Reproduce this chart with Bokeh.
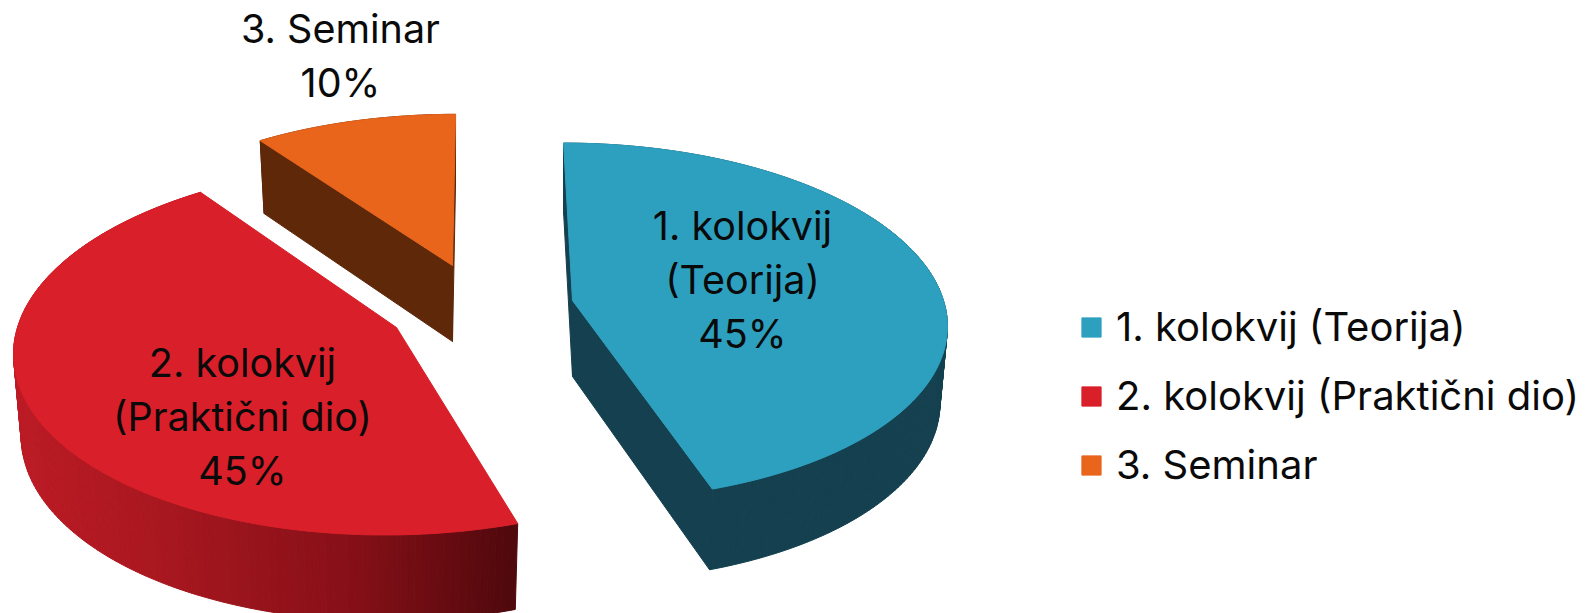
import numpy as np
from bokeh.core.properties import value
from bokeh.embed import file_html
from bokeh.models import Legend, LegendItem, Range1d
from bokeh.plotting import figure
from bokeh.resources import INLINE

# ---- chart data ----
categories = ["1. kolokvij (Teorija)", "2. kolokvij (Praktični dio)", "3. Seminar"]
slice_labels = [["1. kolokvij", "(Teorija)"], ["2. kolokvij", "(Praktični dio)"], ["3. Seminar"]]
shares = [45, 45, 10]
colors = ["#2da0bf", "#d91f29", "#e9651c"]

# ---- 3D projection layout, one entry per slice (page pixels) ----
apex_x = [572, 396, 452]
apex_y = [300, 327, 265]
radius_x = [371, 379, 363]
radius_y = [176, 183, 169]
PERSPECTIVE = 0.118
shear = [-10, 10, 3.4]
depth = [76, 81, 76]
BOTTOM_X, BOTTOM_Y = 0.98, 1.025
label_x = [742, 242, 340]
label_base = [225, 362, 28]
LINE_H = 54
FONT_NAME = "Inter"

p = figure(width=1595, height=613, output_backend="svg", toolbar_location=None,
           x_range=Range1d(0, 1595), y_range=Range1d(613, 0),
           min_border=0, outline_line_color=None, background_fill_color="white")
p.axis.visible = False
p.grid.visible = False


def ring(i, theta_deg, bottom=False):
    t = np.radians(theta_deg)
    d = np.cos(t)
    s = 1.0 / (1.0 + PERSPECTIVE * d)
    dx = s * (radius_x[i] * np.sin(t) + shear[i] * d)
    dy = -s * radius_y[i] * d
    if bottom:
        return apex_x[i] + BOTTOM_X * dx, apex_y[i] + depth[i] + BOTTOM_Y * dy
    return apex_x[i] + dx, apex_y[i] + dy


def red_wall(x):
    stops_x = [0, 150, 350, 520]
    r = np.interp(x, stops_x, [190, 170, 135, 78])
    g = np.interp(x, stops_x, [28, 24, 16, 9])
    b = np.interp(x, stops_x, [38, 32, 24, 13])
    return "#%02x%02x%02x" % (int(r), int(g), int(b))


wall_solid = ["#14404f", None, "#5e2809"]
face_solid = ["#14404f", None, "#5e2809"]

edges = np.concatenate([[0], np.cumsum(shares)]) * 3.6
tops = []
for i in range(len(shares)):
    a0, a1 = edges[i], edges[i + 1]
    th = np.linspace(a0, a1, int(a1 - a0) + 1)

    # side wall, built of thin quads so that it can carry a gradient
    xs, ys, cs = [], [], []
    for u, v in zip(th[:-1], th[1:]):
        tx0, ty0 = ring(i, u)
        tx1, ty1 = ring(i, v)
        bx0, by0 = ring(i, u, True)
        bx1, by1 = ring(i, v, True)
        xs.append([tx0, tx1, bx1, bx0])
        ys.append([ty0, ty1, by1, by0])
        cs.append(wall_solid[i] or red_wall((tx0 + tx1) / 2))
    p.patches(xs, ys, fill_color=cs, line_color=cs, line_width=1)

    # visible cut faces
    if face_solid[i]:
        for a in (a0, a1):
            tx, ty = ring(i, a)
            bx, by = ring(i, a, True)
            p.patch([apex_x[i], tx, bx, apex_x[i]],
                    [apex_y[i], ty, by, apex_y[i] + depth[i]],
                    fill_color=face_solid[i], line_color=face_solid[i], line_width=1)

# top faces last, so they cover the walls
for i in range(len(shares)):
    th = np.linspace(edges[i], edges[i + 1], 120)
    x, y = ring(i, th)
    tops.append(p.patch(np.r_[apex_x[i], x], np.r_[apex_y[i], y],
                        fill_color=colors[i], line_color=colors[i], line_width=1))

# data labels
for i in range(len(shares)):
    lines = slice_labels[i] + [f"{shares[i]}%"]
    p.text([label_x[i]] * len(lines), [label_base[i] + k * LINE_H for k in range(len(lines))],
           text=lines, text_font=value(FONT_NAME), text_font_size="39.5px", text_color="#0a0a0a",
           text_align="center", text_baseline="alphabetic")

legend = Legend(items=[LegendItem(label=c, renderers=[r]) for c, r in zip(categories, tops)],
                location=(1079, 124), orientation="vertical",
                glyph_width=24, glyph_height=24, label_standoff=13, spacing=20,
                padding=0, margin=0, border_line_color=None, background_fill_alpha=0,
                label_text_font=FONT_NAME, label_text_font_size="40px", label_text_color="#0a0a0a")
p.add_layout(legend)

open("out.html", "w").write(file_html(p, INLINE))
